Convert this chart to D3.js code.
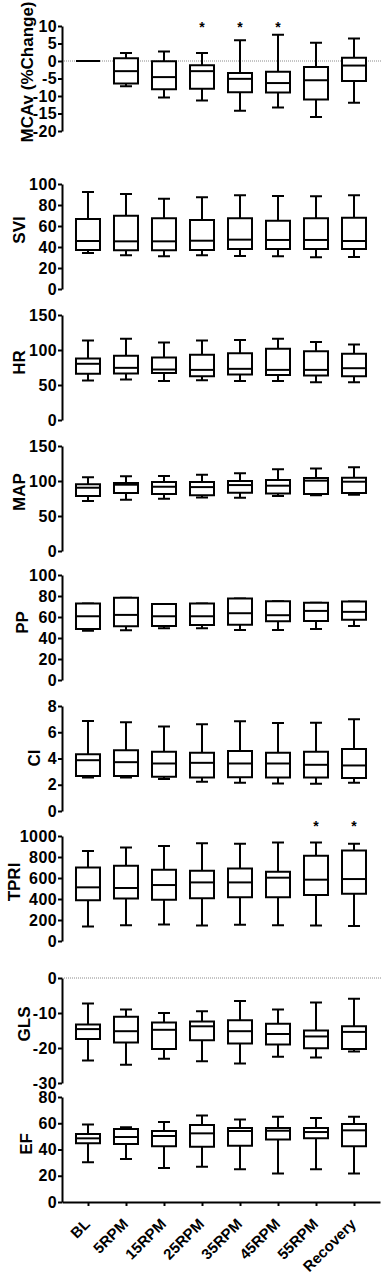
<!DOCTYPE html>
<html>
<head>
<meta charset="utf-8">
<script src="https://cdn.jsdelivr.net/npm/d3@7"></script>
<style>
  html, body { margin: 0; padding: 0; background: #fff; }
  svg { display: block; font-family: "Liberation Sans", Arial, sans-serif; font-weight: bold; }
</style>
</head>
<body>
<svg id="chart" width="381" height="1276"></svg>
<script>
// categories (x axis)
const CATS = ["BL", "5RPM", "15RPM", "25RPM", "35RPM", "45RPM", "55RPM", "Recovery"];

// each row: [min, q1, median, q3, max], one row per category
const MCAV = [[0, 0, 0, 0, 0], [-7.2, -6.4, -2.9, 0.8, 2.3], [-10.4, -8.1, -4.6, -0.1, 2.7],
  [-11.3, -7.9, -2.9, -1.2, 2.3], [-14.2, -8.9, -5.1, -3.4, 5.9], [-13.3, -9.0, -6.3, -3.1, 7.5],
  [-16.0, -11.0, -5.5, -1.7, 5.2], [-11.9, -5.7, -1.3, 0.9, 6.4]];
const SVI = [[34.3, 37.1, 45.7, 66.7, 92.4], [32.1, 36.8, 45.4, 69.8, 90.5], [31.1, 36.8, 45.4, 67.3, 86.0],
  [32.1, 37.1, 46.0, 65.7, 87.3], [31.4, 38.1, 47.0, 67.3, 89.2], [31.1, 38.1, 46.7, 65.1, 88.6],
  [30.2, 38.1, 46.7, 67.3, 88.3], [30.5, 38.1, 45.7, 67.9, 89.2]];
const HR = [[56.3, 65.9, 80.3, 88.0, 113.5], [57.7, 66.3, 74.5, 91.8, 115.9], [55.8, 67.3, 72.1, 89.4, 110.6],
  [56.7, 62.5, 71.6, 93.3, 113.5], [55.8, 64.9, 73.1, 95.2, 114.4], [55.8, 64.4, 71.6, 101.9, 115.9],
  [53.8, 63.5, 71.6, 98.1, 111.5], [53.8, 62.5, 74.0, 94.7, 107.7]];
const MAP = [[71.6, 78.4, 90.4, 95.2, 105.3], [73.1, 82.7, 94.7, 97.1, 106.7], [74.5, 81.3, 91.8, 98.6, 107.2],
  [76.4, 79.8, 91.3, 98.6, 109.1], [76.0, 83.2, 94.2, 100.0, 111.1], [78.4, 82.2, 93.3, 101.4, 116.8],
  [79.8, 81.3, 100.5, 104.3, 117.8], [80.3, 82.7, 99.0, 104.8, 119.7]];
const PP = [[47.0, 48.6, 60.7, 72.8, 72.8], [47.3, 51.1, 62.0, 78.3, 78.3], [49.2, 51.4, 60.7, 72.5, 72.5],
  [49.2, 52.4, 60.7, 72.8, 72.8], [47.6, 52.7, 63.6, 77.6, 77.6], [47.6, 55.9, 61.7, 75.1, 75.1],
  [48.6, 56.2, 65.8, 73.5, 73.5], [51.4, 57.5, 64.9, 74.8, 74.8]];
const CI = [[2.56, 2.66, 3.87, 4.33, 6.86], [2.56, 2.66, 3.72, 4.63, 6.76], [2.43, 2.61, 3.62, 4.51, 6.43],
  [2.23, 2.56, 3.67, 4.43, 6.61], [2.15, 2.58, 3.62, 4.58, 6.84], [2.10, 2.56, 3.62, 4.43, 6.71],
  [2.08, 2.56, 3.52, 4.51, 6.73], [2.15, 2.51, 3.47, 4.73, 6.99]];
const TPRI = [[139, 388, 511, 700, 858], [151, 404, 505, 716, 890], [158, 394, 533, 678, 905],
  [148, 407, 558, 669, 931], [155, 416, 558, 691, 927], [151, 416, 603, 659, 937],
  [148, 438, 584, 811, 937], [142, 451, 590, 861, 927]];
const GLS = [[-23.6, -17.4, -14.6, -13.3, -7.3], [-24.8, -18.4, -15.2, -11.1, -9.0], [-23.1, -20.3, -14.8, -12.7, -10.0],
  [-23.8, -17.8, -13.8, -12.4, -9.5], [-24.4, -18.7, -15.2, -12.1, -6.6], [-22.5, -19.0, -16.0, -13.1, -9.0],
  [-22.7, -20.1, -16.7, -15.0, -7.0], [-21.0, -20.3, -15.4, -13.8, -5.9]];
const EF = [[30.2, 44.7, 48.5, 51.8, 59.1], [32.7, 44.2, 49.5, 55.6, 56.9], [25.9, 42.4, 50.3, 54.1, 60.9],
  [26.9, 42.1, 52.3, 58.6, 66.0], [24.9, 42.9, 54.1, 56.3, 62.9], [21.8, 47.7, 54.3, 56.3, 65.0],
  [24.9, 48.5, 53.3, 56.3, 64.0], [21.8, 42.4, 54.6, 59.4, 65.0]];

// significance marks
const MCAV_SIG = ["25RPM", "35RPM", "45RPM"];
const TPRI_SIG = ["55RPM", "Recovery"];

// tick values per panel
const MCAV_TICKS = [-20, -15, -10, -5, 0, 5, 10];
const SVI_TICKS = [0, 20, 40, 60, 80, 100];
const HR_TICKS = [0, 50, 100, 150];
const MAP_TICKS = [0, 50, 100, 150];
const PP_TICKS = [0, 20, 40, 60, 80, 100];
const CI_TICKS = [0, 2, 4, 6, 8];
const TPRI_TICKS = [0, 200, 400, 600, 800, 1000];
const GLS_TICKS = [-30, -20, -10, 0];
const EF_TICKS = [0, 20, 40, 60, 80];

// layout of the stacked panels
const PANELS = [
  {label: "MCAv (%Change)", data: MCAV, domain: [-20, 10], ticks: MCAV_TICKS, top: 26, lx: 33, ly: 72, zero: true, sig: MCAV_SIG, starAt: 10.43},
  {label: "SVI", data: SVI, domain: [0, 100], ticks: SVI_TICKS, top: 184, lx: 25, ly: 230},
  {label: "HR", data: HR, domain: [0, 150], ticks: HR_TICKS, top: 315, lx: 25, ly: 362.5},
  {label: "MAP", data: MAP, domain: [0, 150], ticks: MAP_TICKS, top: 446, lx: 25, ly: 492},
  {label: "PP", data: PP, domain: [0, 100], ticks: PP_TICKS, top: 575, lx: 28, ly: 622.5},
  {label: "CI", data: CI, domain: [0, 8], ticks: CI_TICKS, top: 706, lx: 40, ly: 758},
  {label: "TPRI", data: TPRI, domain: [0, 1000], ticks: TPRI_TICKS, top: 836, lx: 20, ly: 882, sig: TPRI_SIG, starAt: 1123},
  {label: "GLS", data: GLS, domain: [-30, 0], ticks: GLS_TICKS, top: 978, lx: 30, ly: 1024, zero: true},
  {label: "EF", data: EF, domain: [0, 80], ticks: EF_TICKS, top: 1097, lx: 32, ly: 1144, xaxis: true}
];

const H = 105, X0 = 62, X1 = 380, BOX = 24, CAP = 12, SW = 2;
const x = d3.scalePoint().domain(CATS).range([X0, X1]).padding(0.684);
const svg = d3.select("#chart");

PANELS.forEach((p) => {
  const y = d3.scaleLinear(p.domain, [p.top + H, p.top]);
  const g = svg.append("g");

  if (p.zero) {
    g.append("line").attr("x1", X0).attr("x2", 381).attr("y1", y(0)).attr("y2", y(0))
      .attr("stroke", "#8a8a8a").attr("stroke-width", 1).attr("stroke-dasharray", "1,1");
  }

  const rows = p.data.map((d, i) => ({cat: CATS[i], mn: d[0], q1: d[1], md: d[2], q3: d[3], mx: d[4]}));
  const box = g.append("g").selectAll("g").data(rows).join("g")
    .attr("stroke", "#000").attr("stroke-width", SW);

  // whiskers + caps
  box.append("path").attr("fill", "none").attr("d", (r) => {
    const cx = x(r.cat);
    return `M${cx},${y(r.mx)}V${y(r.q3)}M${cx},${y(r.q1)}V${y(r.mn)}` +
      `M${cx - CAP / 2},${y(r.mx)}H${cx + CAP / 2}M${cx - CAP / 2},${y(r.mn)}H${cx + CAP / 2}`;
  });
  // box
  box.append("path").attr("fill", "#fff").attr("d", (r) => {
    const cx = x(r.cat);
    return `M${cx - BOX / 2},${y(r.q3)}H${cx + BOX / 2}V${y(r.q1)}H${cx - BOX / 2}Z`;
  });
  // median
  box.append("path").attr("fill", "none").attr("d", (r) => {
    const cx = x(r.cat);
    return `M${cx - BOX / 2},${y(r.md)}H${cx + BOX / 2}`;
  });

  if (p.sig) {
    g.append("g").selectAll("text").data(p.sig).join("text")
      .attr("x", (c) => x(c)).attr("y", y(p.starAt) + 8)
      .attr("text-anchor", "middle").attr("font-size", 14).text("*");
  }

  // y axis
  const ax = g.append("g").attr("transform", `translate(${X0},0)`)
    .call(d3.axisLeft(y).tickValues(p.ticks).tickSize(4).tickSizeOuter(0).tickPadding(1)
      .tickFormat((d) => String(d)));
  ax.attr("font-family", null).attr("font-size", null);
  ax.select(".domain").attr("stroke", "#000").attr("stroke-width", SW);
  ax.selectAll(".tick line").attr("stroke", "#000").attr("stroke-width", SW);
  ax.selectAll(".tick text").attr("fill", "#000").attr("font-size", 16)
    .attr("letter-spacing", 0.4);

  g.append("text").attr("transform", `translate(${p.lx},${p.ly}) rotate(-90)`)
    .attr("text-anchor", "middle").attr("font-size", 17).text(p.label);

  if (p.xaxis) {
    const xb = g.append("g").attr("transform", `translate(0,${y(0)})`)
      .call(d3.axisBottom(x).tickSize(4).tickSizeOuter(0).tickFormat(""));
    xb.select(".domain").attr("stroke", "#000").attr("stroke-width", SW);
    xb.selectAll(".tick line").attr("stroke", "#000").attr("stroke-width", SW);
    g.append("g").selectAll("text").data(CATS).join("text")
      .attr("transform", (c) => `translate(${x(c) + 3},${y(0) + 23}) rotate(-45)`)
      .attr("text-anchor", "end").attr("font-size", 15).text((c) => c);
  }
});
</script>
</body>
</html>
